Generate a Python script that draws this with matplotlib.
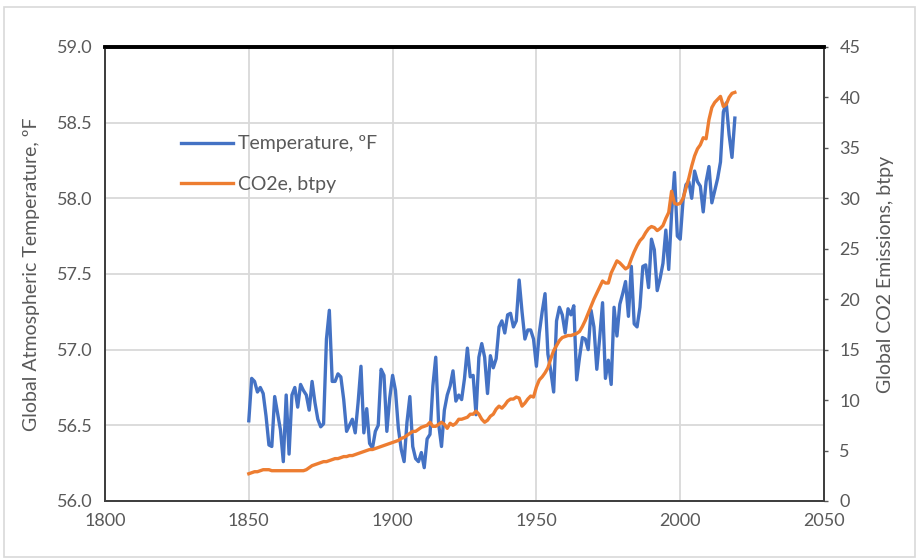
#!/usr/bin/env python3
"""
Global atmospheric temperature vs global CO2e emissions, 1850-2019
"""

import numpy as np
import matplotlib.pyplot as plt
from matplotlib.patches import Rectangle

# Years covered by both series
years = list(range(1850, 2020))

# Global atmospheric temperature, deg F
temperature_f = [
    56.53, 56.81, 56.79, 56.72, 56.75, 56.71, 56.56, 56.37, 56.36, 56.69,  # 1850s
    56.58, 56.47, 56.26, 56.70, 56.31, 56.70, 56.75, 56.62, 56.77, 56.73,  # 1860s
    56.70, 56.60, 56.79, 56.65, 56.54, 56.49, 56.51, 57.07, 57.26, 56.79,  # 1870s
    56.79, 56.84, 56.82, 56.67, 56.46, 56.50, 56.54, 56.45, 56.65, 56.89,  # 1880s
    56.45, 56.61, 56.38, 56.35, 56.46, 56.50, 56.87, 56.83, 56.46, 56.68,  # 1890s
    56.83, 56.73, 56.48, 56.34, 56.26, 56.52, 56.69, 56.36, 56.28, 56.26,  # 1900s
    56.32, 56.22, 56.41, 56.44, 56.76, 56.95, 56.51, 56.36, 56.60, 56.70,  # 1910s
    56.76, 56.86, 56.66, 56.70, 56.67, 56.81, 57.01, 56.82, 56.83, 56.57,  # 1920s
    56.95, 57.04, 56.95, 56.71, 56.96, 56.88, 56.94, 57.15, 57.19, 57.11,  # 1930s
    57.23, 57.24, 57.15, 57.19, 57.46, 57.25, 57.07, 57.13, 57.13, 57.07,  # 1940s
    56.89, 57.11, 57.25, 57.37, 56.97, 56.86, 56.72, 57.19, 57.28, 57.23,  # 1950s
    57.11, 57.27, 57.23, 57.29, 56.80, 56.95, 57.08, 57.07, 57.00, 57.26,  # 1960s
    57.15, 56.87, 57.08, 57.31, 56.81, 56.93, 56.77, 57.28, 57.09, 57.30,  # 1970s
    57.37, 57.45, 57.22, 57.55, 57.17, 57.15, 57.28, 57.55, 57.56, 57.41,  # 1980s
    57.73, 57.66, 57.39, 57.47, 57.57, 57.79, 57.53, 57.90, 58.17, 57.75,  # 1990s
    57.73, 57.99, 58.09, 58.11, 58.00, 58.18, 58.11, 58.08, 57.91, 58.11,  # 2000s
    58.21, 57.97, 58.05, 58.13, 58.24, 58.57, 58.63, 58.42, 58.27, 58.53,  # 2010s
]

# Global CO2e emissions, billion tonnes per year
co2e_btpy = [
    2.7, 2.8, 2.9, 2.9, 3.0, 3.1, 3.1, 3.1, 3.0, 3.0,          # 1850s
    3.0, 3.0, 3.0, 3.0, 3.0, 3.0, 3.0, 3.0, 3.0, 3.0,          # 1860s
    3.1, 3.3, 3.5, 3.6, 3.7, 3.8, 3.9, 3.9, 4.0, 4.1,          # 1870s
    4.2, 4.2, 4.3, 4.4, 4.4, 4.5, 4.5, 4.6, 4.7, 4.8,          # 1880s
    4.9, 5.0, 5.1, 5.1, 5.2, 5.3, 5.4, 5.5, 5.6, 5.7,          # 1890s
    5.8, 5.9, 6.0, 6.2, 6.3, 6.5, 6.7, 6.9, 6.9, 7.1,          # 1900s
    7.3, 7.4, 7.5, 7.8, 7.4, 7.4, 7.6, 7.8, 7.6, 7.2,          # 1910s
    7.7, 7.5, 7.7, 8.1, 8.1, 8.2, 8.3, 8.6, 8.6, 8.9,          # 1920s
    8.6, 8.1, 7.8, 8.0, 8.4, 8.6, 9.1, 9.4, 9.2, 9.5,          # 1930s
    9.9, 10.1, 10.1, 10.3, 10.2, 9.4, 9.7, 10.1, 10.4, 10.3,   # 1940s
    11.3, 12.0, 12.3, 12.7, 13.2, 14.1, 14.9, 15.4, 15.9, 16.2,  # 1950s
    16.3, 16.4, 16.4, 16.5, 16.6, 16.8, 17.3, 17.9, 18.6, 19.3,  # 1960s
    20.0, 20.6, 21.2, 21.8, 21.6, 21.6, 22.6, 23.2, 23.8, 23.6,  # 1970s
    23.3, 23.0, 23.2, 24.0, 24.7, 25.3, 25.8, 26.1, 26.6, 27.0,  # 1980s
    27.2, 27.1, 26.8, 27.0, 27.3, 28.0, 28.6, 30.7, 29.5, 29.4,  # 1990s
    29.5, 30.0, 31.0, 32.0, 33.2, 34.2, 34.9, 35.3, 36.0, 35.9,  # 2000s
    37.8, 39.0, 39.5, 39.8, 40.1, 39.1, 39.3, 40.0, 40.4, 40.5,  # 2010s
]

x_ticks = [1800, 1850, 1900, 1950, 2000, 2050]
temp_ticks = [56.0, 56.5, 57.0, 57.5, 58.0, 58.5, 59.0]
co2_ticks = [0, 5, 10, 15, 20, 25, 30, 35, 40, 45]

BLUE = '#4472C4'
ORANGE = '#ED7D31'
TEXT = '#595959'
GRID = '#D9D9D9'


def create_chart():
    """Draw the two-axis temperature / emissions chart"""
    plt.rcParams['font.family'] = ['Lato', 'DejaVu Sans']

    fig = plt.figure(figsize=(9.17, 5.59), dpi=100)
    ax1 = fig.add_axes([0.1145, 0.1038, 0.7841, 0.8122])
    ax2 = ax1.twinx()

    # Outer chart-area border
    fig.patches.append(Rectangle((0.004, 0.004), 0.994, 0.984, transform=fig.transFigure,
                                 fill=False, edgecolor='#D9D9D9', linewidth=1.2))

    # Temperature on the primary axis
    line_t, = ax1.plot(years, temperature_f, color=BLUE, linewidth=2.4,
                       solid_joinstyle='round', label='Temperature, ºF')
    ax1.set_xlim(1800, 2050)
    ax1.set_ylim(56.0, 59.0)
    ax1.set_xticks(x_ticks)
    ax1.set_yticks(temp_ticks)
    ax1.set_yticklabels([f'{v:.1f}' for v in temp_ticks])
    ax1.grid(True, color=GRID, linewidth=1.3)
    ax1.set_axisbelow(True)
    ax1.tick_params(axis='both', length=0, labelsize=13, colors=TEXT, pad=9)
    ax1.set_ylabel('Global Atmospheric Temperature, ºF', fontsize=14, color=TEXT, labelpad=12)

    # CO2e on the secondary axis
    line_c, = ax2.plot(years, co2e_btpy, color=ORANGE, linewidth=2.4,
                       solid_joinstyle='round', label='CO2e, btpy')
    ax2.set_ylim(0, 45)
    ax2.set_yticks(co2_ticks)
    ax2.tick_params(axis='y', length=3, width=1, color='#595959', labelsize=13,
                    colors=TEXT, pad=8)
    ax2.set_ylabel('Global CO2 Emissions, btpy', fontsize=14, color=TEXT,
                   rotation=90, labelpad=12)

    # Spines: black top border, dark grey axis lines elsewhere
    for ax in (ax1, ax2):
        ax.spines['top'].set_color('black')
        ax.spines['top'].set_linewidth(2.6)
        for side in ('left', 'right', 'bottom'):
            ax.spines[side].set_color('#404040')
            ax.spines[side].set_linewidth(1.4)

    ax1.legend(handles=[line_t, line_c], loc='upper left',
               bbox_to_anchor=(0.178, 0.789), bbox_transform=fig.transFigure,
               frameon=False, fontsize=14, handlelength=2.7, handletextpad=0.25,
               labelspacing=1.2, labelcolor=TEXT)

    plt.savefig('out.png', dpi=100, facecolor='white')
    plt.close()


def main():
    create_chart()


if __name__ == "__main__":
    main()
